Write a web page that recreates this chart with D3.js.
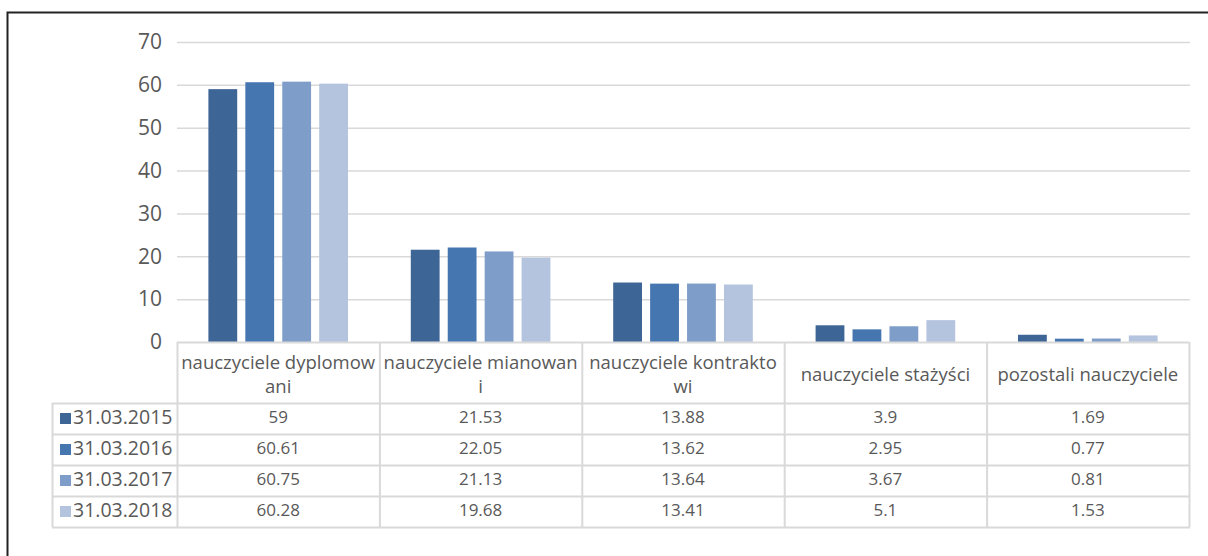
<!DOCTYPE html>
<html><head><meta charset="utf-8">
<script src="https://cdn.jsdelivr.net/npm/d3@7"></script>
<style>body{margin:0;background:#fff;}svg{display:block;font-family:"Open Sans", sans-serif;}</style>
</head><body><svg id="c" width="1208" height="556"></svg>
<script>
const categories = ["nauczyciele dyplomowani","nauczyciele mianowani","nauczyciele kontraktowi","nauczyciele stażyści","pozostali nauczyciele"];
const categoryLines = [["nauczyciele dyplomow","ani"],["nauczyciele mianowan","i"],["nauczyciele kontrakto","wi"],["nauczyciele stażyści"],["pozostali nauczyciele"]];
const seriesNames = ["31.03.2015","31.03.2016","31.03.2017","31.03.2018"];
const s2015 = [59, 21.53, 13.88, 3.9, 1.69];
const s2016 = [60.61, 22.05, 13.62, 2.95, 0.77];
const s2017 = [60.75, 21.13, 13.64, 3.67, 0.81];
const s2018 = [60.28, 19.68, 13.41, 5.1, 1.53];
const yTicks = [0,10,20,30,40,50,60,70];
const colors = ["#3d6596","#4676b0","#7f9dc9","#b4c3de"];
const series = [s2015, s2016, s2017, s2018];

const svg = d3.select("#c");
const txt = "#595959";
svg.append("rect").attr("x",7.5).attr("y",12.5).attr("width",1220).attr("height",600)
  .attr("fill","none").attr("stroke","#222").attr("stroke-width",2);

const x0 = d3.scaleBand().domain(categories).range([177,1189]);
const x1 = d3.scaleBand().domain(seriesNames).range([0,x0.bandwidth()]).paddingInner(0.22).paddingOuter(0.85);
const y = d3.scaleLinear().domain([0,70]).range([342,42]);

svg.append("g").selectAll("line").data(yTicks.filter(t=>t>0)).join("line")
  .attr("x1",177).attr("x2",1190).attr("y1",d=>y(d)+0.5).attr("y2",d=>y(d)+0.5)
  .attr("stroke","#d9d9d9").attr("stroke-width",1.5);

const yAxis = d3.axisLeft(y).tickValues(yTicks).tickSize(0).tickPadding(0);
const ga = svg.append("g").attr("transform","translate(162,0)").call(yAxis);
ga.select(".domain").remove();
ga.selectAll("text").attr("fill",txt).style("font-size","21px").style("font-family","'Open Sans', sans-serif");

const groups = svg.append("g").selectAll("g").data(categories).join("g")
  .attr("transform",d=>`translate(${x0(d)},0)`);
groups.selectAll("rect").data((d,i)=>series.map((s,j)=>({name:seriesNames[j],v:s[i],j})))
  .join("rect")
  .attr("x",d=>x1(d.name)).attr("width",x1.bandwidth())
  .attr("y",d=>y(d.v)).attr("height",d=>y(0)-y(d.v))
  .attr("fill",d=>colors[d.j]);

const rowTop = 403, rowH = 31;
const tg = svg.append("g");
const gridC = "#d9d9d9";
tg.append("line").attr("x1",177).attr("x2",1189).attr("y1",342.5).attr("y2",342.5).attr("stroke",gridC).attr("stroke-width",2);
for(let r=0;r<=seriesNames.length;r++){
  tg.append("line").attr("x1",52).attr("x2",1190).attr("y1",rowTop+r*rowH+0.5).attr("y2",rowTop+r*rowH+0.5).attr("stroke",gridC).attr("stroke-width",2);
}
const bottom = rowTop+seriesNames.length*rowH;
tg.append("line").attr("x1",52.5).attr("x2",52.5).attr("y1",rowTop).attr("y2",bottom).attr("stroke",gridC).attr("stroke-width",2);
categories.forEach(c=>{
  tg.append("line").attr("x1",x0(c)+0.5).attr("x2",x0(c)+0.5).attr("y1",342).attr("y2",bottom).attr("stroke",gridC).attr("stroke-width",2);
});
tg.append("line").attr("x1",1189.5).attr("x2",1189.5).attr("y1",342).attr("y2",bottom).attr("stroke",gridC).attr("stroke-width",2);

categories.forEach((c,i)=>{
  const lines = categoryLines[i];
  const cx = x0(c)+x0.bandwidth()/2;
  const startY = lines.length===1 ? 376 : 364;
  lines.forEach((l,k)=>{
    tg.append("text").attr("x",cx).attr("y",startY+k*24).attr("text-anchor","middle")
      .attr("dominant-baseline","middle").attr("fill",txt).style("font-size","18.5px").text(l);
  });
});
seriesNames.forEach((n,r)=>{
  const cy = rowTop + r*rowH + rowH/2;
  tg.append("rect").attr("x",60).attr("y",cy-5.5).attr("width",11).attr("height",11).attr("fill",colors[r]);
  tg.append("text").attr("x",73).attr("y",cy).attr("dominant-baseline","middle").attr("fill",txt).style("font-size","19.5px").text(n);
  categories.forEach((c,i)=>{
    tg.append("text").attr("x",x0(c)+x0.bandwidth()/2).attr("y",cy).attr("text-anchor","middle")
      .attr("dominant-baseline","middle").attr("fill",txt).style("font-size","17px").text(String(series[r][i]));
  });
});
</script></body></html>
